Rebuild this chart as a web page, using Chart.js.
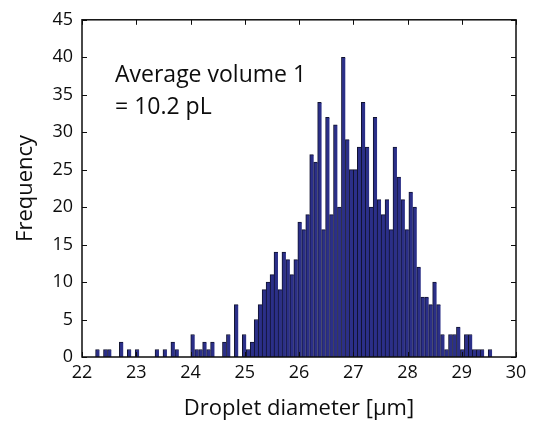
<!DOCTYPE html>
<html>
<head>
<meta charset="utf-8">
<script src="https://cdn.jsdelivr.net/npm/chart.js@4"></script>
<style>
  html, body { margin: 0; padding: 0; background: #ffffff; }
  canvas { display: block; }
</style>
</head>
<body>
<canvas id="histChart" width="542" height="429"></canvas>
<script>
// Histogram: 100 bins between the smallest and largest droplet
const binStart = 22.25;
const binWidth = 0.0731;
const counts = [
    1, 0, 1, 1, 0, 0, 2, 0, 1, 0,
    1, 0, 0, 0, 0, 1, 0, 1, 0, 2,
    1, 0, 0, 0, 3, 1, 1, 2, 1, 2,
    0, 0, 2, 3, 0, 7, 0, 3, 1, 2,
    5, 7, 9, 10, 11, 14, 9, 14, 13, 11,
    13, 18, 17, 19, 27, 26, 34, 17, 32, 19,
    31, 20, 40, 29, 25, 25, 28, 34, 28, 20,
    32, 21, 19, 21, 17, 28, 24, 21, 17, 22,
    20, 12, 8, 8, 7, 10, 7, 3, 1, 3,
    3, 4, 1, 3, 3, 1, 1, 1, 0, 1
];
const xTicks = [22, 23, 24, 25, 26, 27, 28, 29, 30];
const yTicks = [0, 5, 10, 15, 20, 25, 30, 35, 40, 45];
const noteLines = ["Average volume 1", "= 10.2 pL"];

const fontFamily = "'Open Sans', sans-serif";
const inkColor = '#0d0d0d';

const points = counts.map((c, i) => ({ x: binStart + binWidth * (i + 0.5), y: c }));

// Box around the axes, inward tick marks and the text note
const framePlugin = {
    id: 'frame',
    afterDraw(chart) {
        const { ctx, chartArea: a, scales } = chart;
        const len = 5;
        ctx.save();
        ctx.strokeStyle = inkColor;
        ctx.lineWidth = 1;
        ctx.beginPath();
        xTicks.forEach(v => {
            const px = Math.round(scales.x.getPixelForValue(v)) + 0.5;
            ctx.moveTo(px, a.bottom); ctx.lineTo(px, a.bottom - len);
            ctx.moveTo(px, a.top); ctx.lineTo(px, a.top + len);
        });
        yTicks.forEach(v => {
            const py = Math.round(scales.y.getPixelForValue(v)) + 0.5;
            ctx.moveTo(a.left, py); ctx.lineTo(a.left + len, py);
            ctx.moveTo(a.right, py); ctx.lineTo(a.right - len, py);
        });
        ctx.stroke();

        ctx.lineWidth = 1.5;
        ctx.strokeRect(a.left, a.top, a.right - a.left, a.bottom - a.top);

        ctx.fillStyle = inkColor;
        ctx.font = "23px " + fontFamily;
        ctx.textAlign = 'left';
        ctx.textBaseline = 'alphabetic';
        ctx.fillText(noteLines[0], a.left + 33, a.top + 62);
        ctx.fillText(noteLines[1], a.left + 33, a.top + 94);
        ctx.restore();
    }
};

new Chart(document.getElementById('histChart'), {
    type: 'bar',
    data: {
        datasets: [{
            data: points,
            backgroundColor: '#2b2f88',
            borderColor: '#10122e',
            borderWidth: { top: 1, left: 1, right: 0, bottom: 0 },
            borderSkipped: false,
            barPercentage: 1,
            categoryPercentage: 1,
            grouped: false
        }]
    },
    options: {
        responsive: false,
        animation: false,
        devicePixelRatio: 1,
        layout: { padding: { left: 0, right: 26, top: 16, bottom: 0 } },
        plugins: {
            legend: { display: false },
            tooltip: { enabled: false }
        },
        scales: {
            x: {
                type: 'linear',
                min: 22,
                max: 30,
                offset: false,
                grid: { display: false, drawTicks: false },
                border: { display: false },
                afterBuildTicks: s => { s.ticks = xTicks.map(v => ({ value: v })); },
                afterFit: s => { s.height = 72; },
                ticks: {
                    color: inkColor,
                    padding: 5,
                    maxRotation: 0,
                    font: { size: 18, family: fontFamily }
                },
                title: {
                    display: true,
                    text: 'Droplet diameter [µm]',
                    color: inkColor,
                    padding: { top: 0, bottom: 7 },
                    font: { size: 22, family: fontFamily }
                }
            },
            y: {
                min: 0,
                max: 45,
                grid: { display: false, drawTicks: false },
                border: { display: false },
                afterBuildTicks: s => { s.ticks = yTicks.map(v => ({ value: v })); },
                afterFit: s => { s.width = 82; },
                ticks: {
                    color: inkColor,
                    padding: 9,
                    font: { size: 18, family: fontFamily }
                },
                title: {
                    display: true,
                    text: 'Frequency',
                    color: inkColor,
                    padding: { top: 13, bottom: 0 },
                    font: { size: 22, family: fontFamily }
                }
            }
        }
    },
    plugins: [framePlugin]
});
</script>
</body>
</html>
